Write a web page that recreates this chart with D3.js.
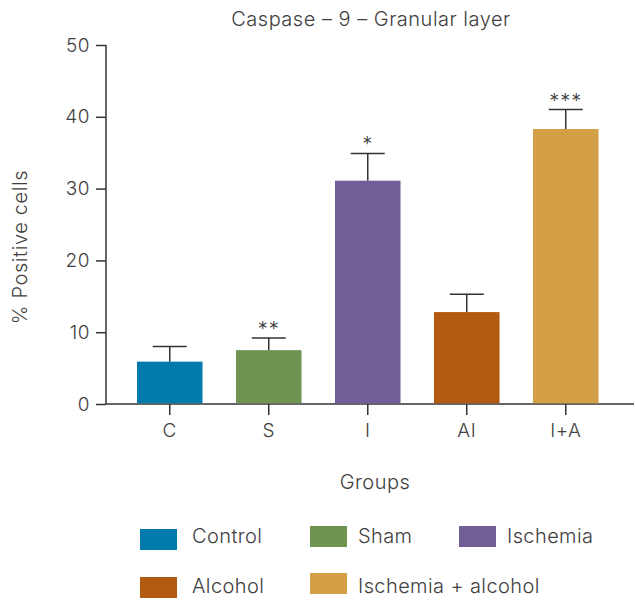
<!DOCTYPE html>
<html><head><meta charset="utf-8">
<script src="https://cdn.jsdelivr.net/npm/d3@7"></script>
<style>body{margin:0;background:#fff}text{font-family:Inter,Roboto,sans-serif;font-weight:300;fill:#404040}</style>
</head><body><svg id="c" width="635" height="600"></svg>
<script>
const categories = ["C","S","I","AI","I+A"];
const names = ["Control","Sham","Ischemia","Alcohol","Ischemia + alcohol"];
const values = [5.9, 7.5, 31.1, 12.8, 38.3];
const errors = [2.1, 1.7, 3.8, 2.5, 2.7];
const stars = ["", "**", "*", "", "***"];
const colors = ["#007BAC","#6F9452","#715E96","#B25A10","#D3A048"];
const yTicks = [0,10,20,30,40,50];

const svg = d3.select("#c");
const x = d3.scaleBand().domain(categories).range([106,629.5]).paddingInner(0.338).paddingOuter(0.313);
const y = d3.scaleLinear().domain([0,50]).range([404,45]);

svg.append("text").attr("x",371).attr("y",26).attr("text-anchor","middle").style("font-size","20px").style("letter-spacing","0.5px").text("Caspase – 9 – Granular layer");

const ya = svg.append("g").attr("transform","translate(106,0)").call(d3.axisLeft(y).tickValues(yTicks).tickSize(10).tickPadding(6));
const xa = svg.append("g").attr("transform","translate(0,404)").call(d3.axisBottom(x).tickSize(11).tickPadding(9));
[ya,xa].forEach(a=>{a.selectAll("path,line").attr("stroke","#333").attr("stroke-width",1.5);a.selectAll("text").style("font-size","19px").style("letter-spacing","0.5px").attr("fill","#404040");});
xa.select(".domain").attr("d","M106,0H634");
ya.select(".domain").attr("d","M0,404V45");

const g = svg.append("g");
categories.forEach((c,i)=>{
  const cx = x(c)+x.bandwidth()/2;
  g.append("line").attr("x1",cx).attr("x2",cx).attr("y1",y(values[i])).attr("y2",y(values[i]+errors[i])).attr("stroke","#333").attr("stroke-width",1.5);
  g.append("line").attr("x1",cx-17).attr("x2",cx+17).attr("y1",y(values[i]+errors[i])).attr("y2",y(values[i]+errors[i])).attr("stroke","#333").attr("stroke-width",1.5);
  g.append("rect").attr("x",x(c)).attr("width",x.bandwidth()).attr("y",y(values[i])).attr("height",y(0)-y(values[i])-0.75).attr("fill",colors[i]);
  if(stars[i]) g.append("text").attr("x",cx).attr("y",y(values[i]+errors[i])-2).attr("text-anchor","middle").style("font-size","20px").style("letter-spacing","1px").text(stars[i]);
});

svg.append("text").attr("transform","translate(27,247) rotate(-90)").attr("text-anchor","middle").style("font-size","20px").style("letter-spacing","0.6px").text("% Positive cells");
svg.append("text").attr("x",375).attr("y",489).attr("text-anchor","middle").style("font-size","20px").style("letter-spacing","0.5px").text("Groups");

const legPos = [[140,529,543],[310,526,543],[459,526,543],[140,577,593],[310,573,593]];
names.forEach((n,i)=>{
  const [lx,ly,tb]=legPos[i];
  svg.append("rect").attr("x",lx).attr("y",ly).attr("width",37).attr("height",21).attr("fill",colors[i]);
  svg.append("text").attr("x",lx+(i%3===0?52:48)).attr("y",tb).style("font-size","20px").style("letter-spacing","0.4px").text(n);
});
</script></body></html>
